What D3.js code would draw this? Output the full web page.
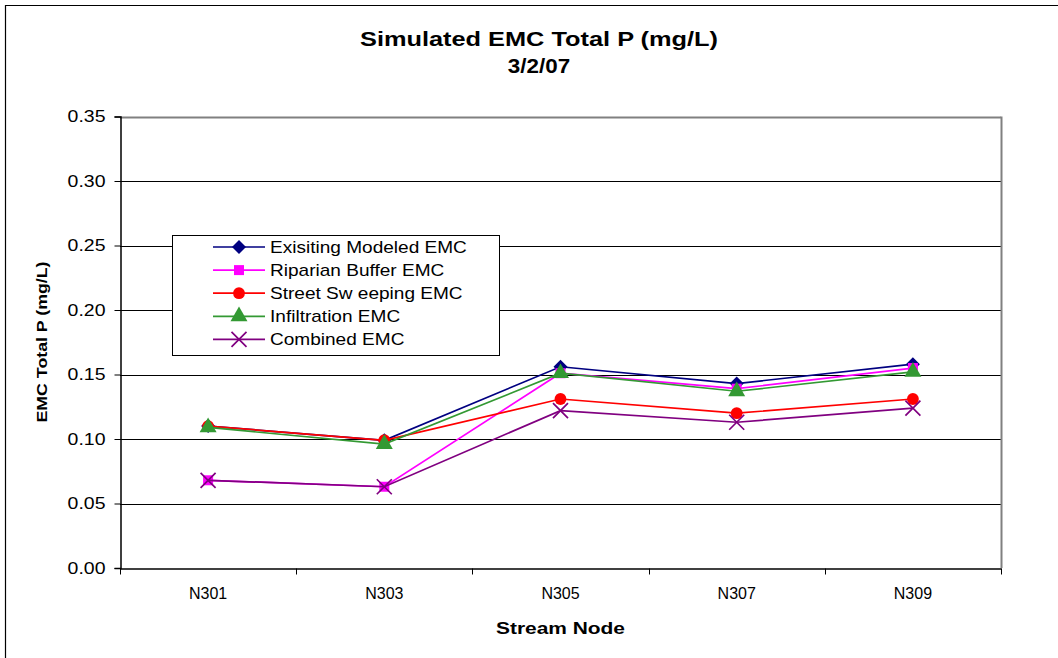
<!DOCTYPE html>
<html><head><meta charset="utf-8">
<script src="https://cdn.jsdelivr.net/npm/d3@7"></script>
<style>body{margin:0;background:#fff}svg{display:block;font-family:Arial,"Liberation Sans",sans-serif}</style>
</head><body><svg id="c" width="1058" height="658"></svg>
<script>
const categories = ["N301","N303","N305","N307","N309"];
const seriesNames = ["Exisiting Modeled EMC","Riparian Buffer EMC","Street Sw eeping EMC","Infiltration EMC","Combined EMC"];
const existing   = [0.110, 0.099, 0.156, 0.143, 0.158];
const riparian   = [0.068, 0.063, 0.151, 0.139, 0.155];
const sweeping   = [0.110, 0.099, 0.131, 0.120, 0.131];
const infiltration = [0.109, 0.096, 0.151, 0.137, 0.152];
const combined   = [0.068, 0.063, 0.122, 0.113, 0.124];
const yTicks = [0,0.05,0.10,0.15,0.20,0.25,0.30,0.35];

const colors = ["#000080","#ff00ff","#ff0000","#339933","#800080"];
const symbols = ["diamond","square","circle","triangle","x"];
const seriesValues = [existing, riparian, sweeping, infiltration, combined];

const svg = d3.select("#c");
const L=120, R=1001, T=116.5, B=568;
const x = d3.scaleBand().domain(categories).range([L,R]);
const y = d3.scaleLinear().domain([0,0.35]).range([B,T]);

function stretch(sel, f){
  sel.each(function(){
    const n=this.getComputedTextLength();
    this.setAttribute("textLength", n*f);
    this.setAttribute("lengthAdjust","spacingAndGlyphs");
  });
}
function fit(sel, w){ sel.attr("textLength",w).attr("lengthAdjust","spacingAndGlyphs"); }

// outer frame
svg.append("path").attr("d","M5.5,658 V5.5 H1058").attr("fill","none").attr("stroke","#000").attr("stroke-width",1.2);

// titles
svg.append("text").attr("x",539).attr("y",46).attr("text-anchor","middle").attr("font-weight","bold").attr("font-size",20).text("Simulated EMC Total P (mg/L)").call(fit,358);
svg.append("text").attr("x",539).attr("y",73).attr("text-anchor","middle").attr("font-weight","bold").attr("font-size",20).text("3/2/07").call(stretch,1.12);

// gridlines
svg.append("g").selectAll("line").data(yTicks.filter(d=>d>0)).join("line")
  .attr("x1",L).attr("x2",R).attr("y1",d=>Math.round(y(d))+0.5).attr("y2",d=>Math.round(y(d))+0.5)
  .attr("stroke",d=>d===0.35?"#808080":"#000").attr("stroke-width",d=>d===0.35?2:1);
// right border
svg.append("line").attr("x1",R+0.5).attr("x2",R+0.5).attr("y1",T).attr("y2",B).attr("stroke","#808080").attr("stroke-width",2);

// y axis
const yAxis = d3.axisLeft(y).tickValues(yTicks).tickFormat(d3.format(".2f")).tickSize(6).tickPadding(9);
const gy = svg.append("g").attr("transform",`translate(${L+0.5},0)`).call(yAxis);
gy.select(".domain").attr("stroke","#000").attr("stroke-width",1.5);
gy.selectAll(".tick line").attr("stroke","#000");
gy.selectAll("text").attr("font-size",16.5).attr("fill","#000").attr("font-family","Arial,'Liberation Sans',sans-serif").call(stretch,1.18);

// x axis
const xAxis = d3.axisBottom(x).tickSize(0).tickPadding(19);
const gx = svg.append("g").attr("transform",`translate(0,${B+0.5})`).call(xAxis);
gx.select(".domain").attr("stroke","#000").attr("stroke-width",1.5);
gx.selectAll("text").attr("font-size",16).attr("fill","#000").attr("font-family","Arial,'Liberation Sans',sans-serif");
gx.append("g").selectAll("line").data(categories.map(c=>x(c)).concat([R])).join("line")
  .attr("x1",d=>Math.round(d)+0.5).attr("x2",d=>Math.round(d)+0.5).attr("y1",0).attr("y2",6).attr("stroke","#000");

// axis titles
svg.append("text").attr("transform",`translate(47,${342}) rotate(-90)`).attr("text-anchor","middle")
  .attr("font-weight","bold").attr("font-size",15).text("EMC Total P (mg/L)").call(fit,161);
svg.append("text").attr("x",(L+R)/2).attr("y",634).attr("text-anchor","middle")
  .attr("font-weight","bold").attr("font-size",17).text("Stream Node").call(fit,129);

// symbol drawing
function drawSymbol(g, type, color, cx, cy){
  if(type==="x"){
    const s=7.5;
    g.append("path").attr("d",`M${cx-s},${cy-s}L${cx+s},${cy+s}M${cx-s},${cy+s}L${cx+s},${cy-s}`).attr("stroke",color).attr("stroke-width",1.7);
    return;
  }
  if(type==="diamond"){
    const s=7;
    g.append("path").attr("d",`M${cx},${cy-s}L${cx+s},${cy}L${cx},${cy+s}L${cx-s},${cy}Z`).attr("fill",color);
    return;
  }
  const map={square:d3.symbolSquare,circle:d3.symbolCircle,triangle:d3.symbolTriangle};
  const size={square:100,circle:110,triangle:125}[type];
  g.append("path").attr("d",d3.symbol(map[type],size)()).attr("transform",`translate(${cx},${cy})`).attr("fill",color);
}

const line = d3.line().x((d,i)=>x(categories[i])+x.bandwidth()/2).y(d=>y(d));
seriesValues.forEach((vals,k)=>{
  const g = svg.append("g");
  g.append("path").datum(vals).attr("d",line).attr("fill","none").attr("stroke",colors[k]).attr("stroke-width",1.7);
  vals.forEach((v,i)=>drawSymbol(g, symbols[k], colors[k], x(categories[i])+x.bandwidth()/2, y(v)));
});

// legend
const lg = svg.append("g");
lg.append("rect").attr("x",172.5).attr("y",235.5).attr("width",327).attr("height",120).attr("fill","#fff").attr("stroke","#000").attr("stroke-width",1);
seriesNames.forEach((n,k)=>{
  const yy = 247 + k*23.1;
  lg.append("line").attr("x1",213).attr("x2",265).attr("y1",yy).attr("y2",yy).attr("stroke",colors[k]).attr("stroke-width",1.7);
  drawSymbol(lg, symbols[k], colors[k], 239, yy);
  lg.append("text").attr("x",270).attr("y",yy+6).attr("font-size",17).text(n).call(stretch,1.12);
});
</script></body></html>
